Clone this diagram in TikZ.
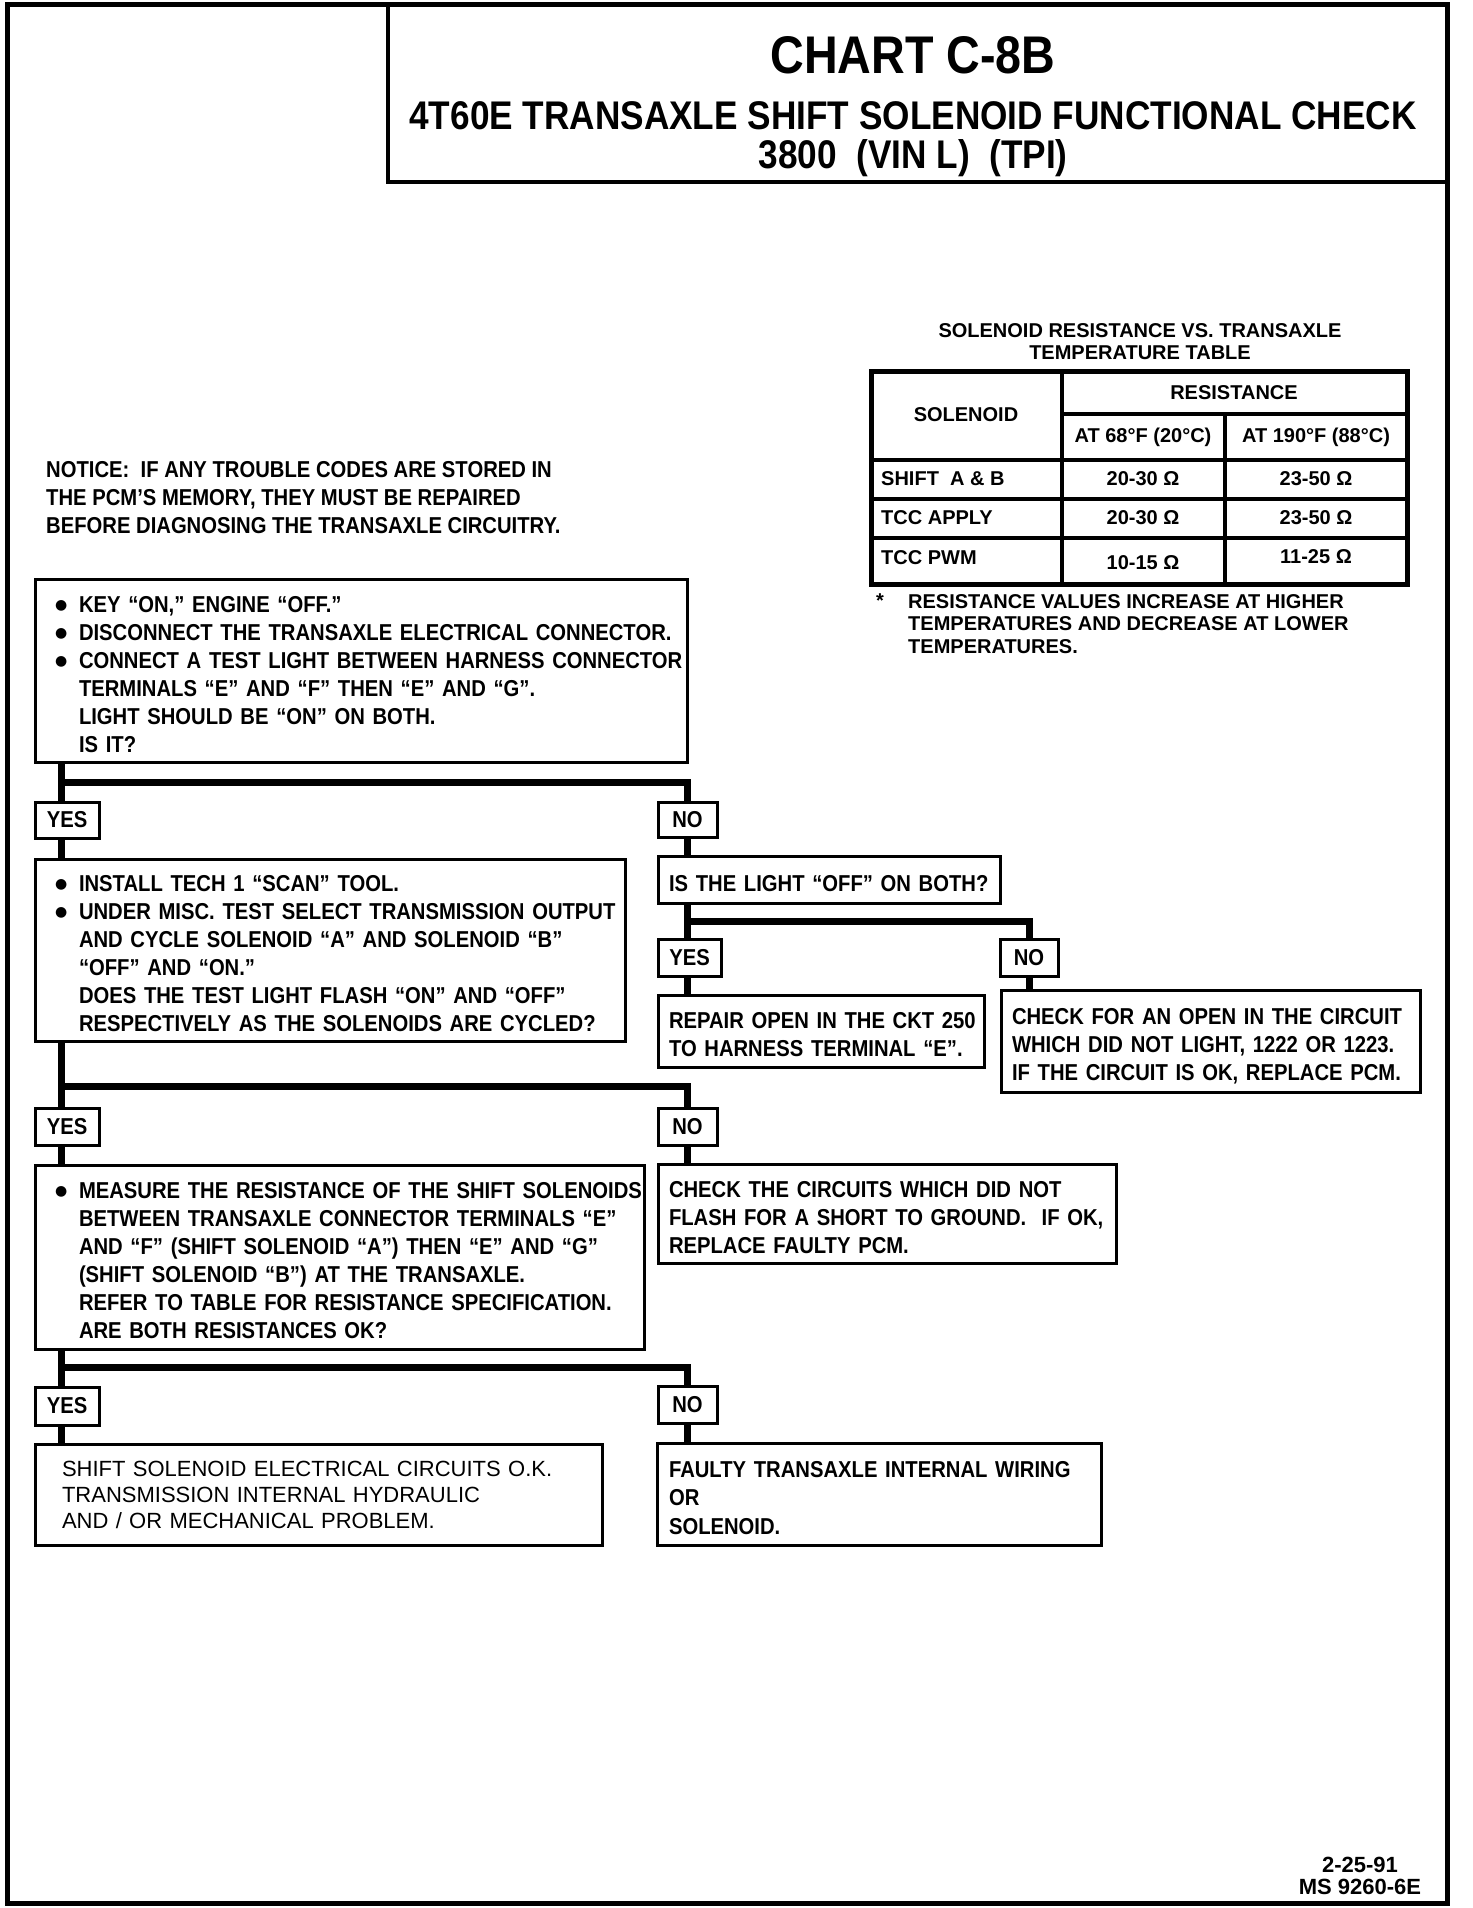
\documentclass[tikz,border=0pt]{standalone}
\usepackage{fontspec}
\usepackage{graphicx}
\setmainfont{Liberation Sans}[FakeStretch=0.88]
\newfontfamily\widefont{Liberation Sans}
\newfontfamily\symfont{DejaVu Sans}
\newcommand\bul{\makebox[24pt][l]{\raisebox{3pt}{\symfont\fontsize{14}{14}\selectfont ●}}}
\newcommand\btext[2][-6pt]{\noindent\raisebox{#1}[\height][\depth]{\begin{tabular}{@{}l@{}l@{}}#2\end{tabular}}}
\newcommand\ptext[2][-6pt]{\noindent\raisebox{#1}[\height][\depth]{\begin{tabular}{@{}l@{}}#2\end{tabular}}}
\pgfdeclarelayer{bg}
\pgfsetlayers{bg,main}
\begin{document}
\begin{tikzpicture}[x=1pt,y=-1pt,
  box/.style={draw, line width=3pt, fill=white, inner ysep=0pt, outer sep=0pt, anchor=north west, align=left, font=\bfseries\fontsize{23}{28}\selectfont},
  lab/.style={draw, line width=3pt, fill=white, inner sep=0pt, outer sep=0pt, anchor=north west, font=\bfseries\fontsize{23}{28}\selectfont},
  conn/.style={line width=7pt, line cap=butt, line join=miter},
  tt/.style={inner sep=0pt, font=\widefont\bfseries\fontsize{20}{22}\selectfont},
  tline/.style={line width=4pt}]
\useasboundingbox (0,0) rectangle (1472,1908);

% title
\node[inner sep=0pt, font=\bfseries\fontsize{53}{60}\selectfont] (t1) at (913,55) {CHART C-8B};
\node[inner sep=0pt, font=\bfseries\fontsize{40}{44}\selectfont] (t2) at (913,116) {4T60E TRANSAXLE SHIFT SOLENOID FUNCTIONAL CHECK};
\node[inner sep=0pt, font=\bfseries\fontsize{40}{44}\selectfont] (t3) at (913,158) {3800\ \ (VIN L)\ \ (TPI)};

% notice
\node[anchor=west, align=left, inner sep=0pt, font=\bfseries\fontsize{23}{28}\selectfont] (notice) at (46,498)
 {NOTICE:\ \ IF ANY TROUBLE CODES ARE STORED IN\\THE PCM’S MEMORY, THEY MUST BE REPAIRED\\BEFORE DIAGNOSING THE TRANSAXLE CIRCUITRY.};

% table
\node[tt, align=center] (ttitle) at (1140,342) {SOLENOID RESISTANCE VS. TRANSAXLE\\TEMPERATURE TABLE};
\draw[line width=5pt] (871,371) rectangle (1407,584);
\draw[tline] (1062,371) -- (1062,584);
\draw[tline] (1225,414) -- (1225,584);
\draw[tline] (1062,414) -- (1407,414);
\draw[tline] (871,460) -- (1407,460);
\draw[tline] (871,499) -- (1407,499);
\draw[tline] (871,538) -- (1407,538);
\node[tt] (hsol) at (966,415) {SOLENOID};
\node[tt] (hres) at (1234,393) {RESISTANCE};
\node[tt] (h68) at (1143,437) {AT 68°F (20°C)};
\node[tt] (h190) at (1316,437) {AT 190°F (88°C)};
\node[tt, anchor=west] (r1) at (881,479) {SHIFT\ \ A \& B};
\node[tt] (r1a) at (1143,479) {20-30 Ω};
\node[tt] (r1b) at (1316,479) {23-50 Ω};
\node[tt, anchor=west] (r2) at (881,518) {TCC APPLY};
\node[tt] (r2a) at (1143,518) {20-30 Ω};
\node[tt] (r2b) at (1316,518) {23-50 Ω};
\node[tt, anchor=west] (r3) at (881,558) {TCC PWM};
\node[tt] (r3a) at (1143,563) {10-15 Ω};
\node[tt] (r3b) at (1316,557) {11-25 Ω};
\node[tt, anchor=north west] (star) at (876,594) {*};
\node[tt, anchor=north west, align=left, font=\widefont\bfseries\fontsize{20}{22.5}\selectfont] (foot) at (908,594)
 {RESISTANCE VALUES INCREASE AT HIGHER\\TEMPERATURES AND DECREASE AT LOWER\\TEMPERATURES.};

% date
\node[tt, align=center, font=\widefont\bfseries\fontsize{22}{22}\selectfont] (date) at (1360,1876) {2-25-91\\MS 9260-6E};

% flow boxes
\node[box, minimum width=652pt, minimum height=183pt, text width=612pt, inner xsep=20pt] (b1) at (35,579)
 {\btext{\bul & KEY “ON,” ENGINE “OFF.”\\
  \bul & DISCONNECT THE TRANSAXLE ELECTRICAL CONNECTOR.\\
  \bul & CONNECT A TEST LIGHT BETWEEN HARNESS CONNECTOR\\
  & TERMINALS “E” AND “F” THEN “E” AND “G”.\\
  & LIGHT SHOULD BE “ON” ON BOTH.\\
  & IS IT?}};
\node[lab, minimum width=64pt, minimum height=36pt] (yes1) at (35,802) {YES};
\node[lab, minimum width=59pt, minimum height=35pt] (no1) at (658,802) {NO};

\node[box, minimum width=590pt, minimum height=182pt, text width=550pt, inner xsep=20pt] (b2) at (35,859)
 {\btext{\bul & INSTALL TECH 1 “SCAN” TOOL.\\
  \bul & UNDER MISC. TEST SELECT TRANSMISSION OUTPUT\\
  & AND CYCLE SOLENOID “A” AND SOLENOID “B”\\
  & “OFF” AND “ON.”\\
  & DOES THE TEST LIGHT FLASH “ON” AND “OFF”\\
  & RESPECTIVELY AS THE SOLENOIDS ARE CYCLED?}};

\node[box, minimum width=342pt, minimum height=47pt, text width=320pt, inner xsep=11pt] (q) at (658,856)
 {\ptext{IS THE LIGHT “OFF” ON BOTH?}};
\node[lab, minimum width=63pt, minimum height=37pt] (yes2) at (658,939) {YES};
\node[lab, minimum width=58pt, minimum height=37pt] (no2) at (1000,939) {NO};
\node[box, minimum width=326pt, minimum height=72pt, text width=304pt, inner xsep=11pt] (rep) at (658,995)
 {\ptext{REPAIR OPEN IN THE CKT 250\\TO HARNESS TERMINAL “E”.}};
\node[box, minimum width=419pt, minimum height=102pt, text width=397pt, inner xsep=11pt] (chk) at (1001,990)
 {\ptext{CHECK FOR AN OPEN IN THE CIRCUIT\\WHICH DID NOT LIGHT, 1222 OR 1223.\\IF THE CIRCUIT IS OK, REPLACE PCM.}};

\node[lab, minimum width=64pt, minimum height=37pt] (yes3) at (35,1108) {YES};
\node[lab, minimum width=59pt, minimum height=37pt] (no3) at (658,1108) {NO};
\node[box, minimum width=609pt, minimum height=184pt, text width=569pt, inner xsep=20pt] (b3) at (35,1165)
 {\btext{\bul & MEASURE THE RESISTANCE OF THE SHIFT SOLENOIDS\\
  & BETWEEN TRANSAXLE CONNECTOR TERMINALS “E”\\
  & AND “F” (SHIFT SOLENOID “A”) THEN “E” AND “G”\\
  & (SHIFT SOLENOID “B”) AT THE TRANSAXLE.\\
  & REFER TO TABLE FOR RESISTANCE SPECIFICATION.\\
  & ARE BOTH RESISTANCES OK?}};
\node[box, minimum width=458pt, minimum height=99pt, text width=436pt, inner xsep=11pt] (sc) at (658,1164)
 {\ptext{CHECK THE CIRCUITS WHICH DID NOT\\FLASH FOR A SHORT TO GROUND.\ \ IF OK,\\REPLACE FAULTY PCM.}};

\node[lab, minimum width=64pt, minimum height=38pt] (yes4) at (35,1387) {YES};
\node[lab, minimum width=59pt, minimum height=37pt] (no4) at (658,1386) {NO};
\node[box, minimum width=567pt, minimum height=101pt, text width=513pt, inner xsep=27pt, font=\widefont\fontsize{22}{26}\selectfont] (fy) at (35,1444)
 {\ptext[-3pt]{SHIFT SOLENOID ELECTRICAL CIRCUITS O.K.\\TRANSMISSION INTERNAL HYDRAULIC\\AND / OR MECHANICAL PROBLEM.}};
\node[box, minimum width=444pt, minimum height=102pt, text width=420pt, inner xsep=12pt, font=\bfseries\fontsize{23}{28.5}\selectfont] (fn) at (657,1443)
 {\ptext{FAULTY TRANSAXLE INTERNAL WIRING\\OR\\SOLENOID.}};

% connectors
\coordinate (tL) at (61,0);
\coordinate (tR) at (687,0);
\coordinate (tR2) at (1029,0);
\coordinate (j1) at (61,782);
\coordinate (j2) at (687,921);
\coordinate (j3) at (61,1086);
\coordinate (j4) at (61,1367);
\begin{pgfonlayer}{bg}
\fill[white] (0,0) rectangle (1472,1908);
\draw[conn] (b1.south -| tL) -- (yes1.north -| tL);
\draw[conn] (j1) -| (no1.north -| tR);
\draw[conn] (yes1.south -| tL) -- (b2.north -| tL);
\draw[conn] (no1.south -| tR) -- (q.north -| tR);
\draw[conn] (q.south -| tR) -- (yes2.north -| tR);
\draw[conn] (j2) -| (no2.north -| tR2);
\draw[conn] (yes2.south -| tR) -- (rep.north -| tR);
\draw[conn] (no2.south -| tR2) -- (chk.north -| tR2);
\draw[conn] (b2.south -| tL) -- (yes3.north -| tL);
\draw[conn] (j3) -| (no3.north -| tR);
\draw[conn] (yes3.south -| tL) -- (b3.north -| tL);
\draw[conn] (no3.south -| tR) -- (sc.north -| tR);
\draw[conn] (b3.south -| tL) -- (yes4.north -| tL);
\draw[conn] (j4) -| (no4.north -| tR);
\draw[conn] (yes4.south -| tL) -- (fy.north -| tL);
\draw[conn] (no4.south -| tR) -- (fn.north -| tR);
\end{pgfonlayer}

% frames
\draw[line width=4pt] (388,5) rectangle (1447,182);
\draw[line width=5pt] (7,5) rectangle (1447,1903);
\end{tikzpicture}
\end{document}
